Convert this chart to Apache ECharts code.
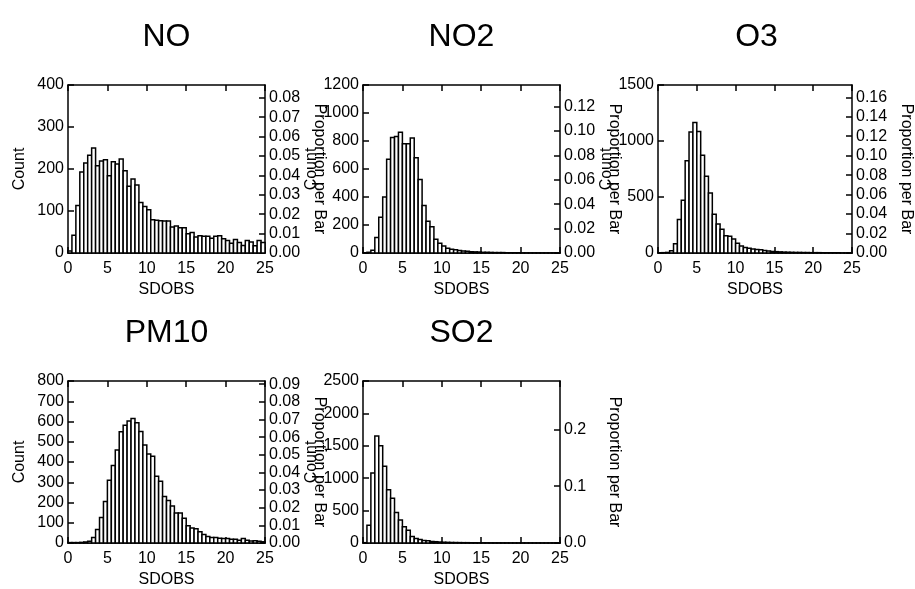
<!DOCTYPE html>
<html>
<head>
<meta charset="utf-8">
<title>SDOBS histograms</title>
<script src="https://cdn.jsdelivr.net/npm/echarts@6/dist/echarts.min.js"></script>
<style>
    html, body { margin: 0; padding: 0; background: #fff; }
    #chart { width: 915px; height: 589px; }
</style>
</head>
<body>
<div id="chart"></div>
<script>
// 数据：每个污染物 50 个柱（0-25，柱宽 0.5）
const pollutants = ['NO', 'NO2', 'O3', 'PM10', 'SO2'];
const binWidth = 0.5;

const noCounts = [5, 42, 113, 193, 214, 233, 250, 208, 219, 222,
    184, 217, 212, 224, 196, 159, 176, 162, 120, 111,
    103, 79, 78, 77, 76, 76, 62, 64, 60, 60,
    46, 49, 38, 41, 40, 40, 35, 40, 41, 34,
    30, 23, 32, 25, 18, 30, 26, 17, 30, 25];
const no2Counts = [2, 5, 20, 110, 255, 400, 670, 825, 832, 862,
    780, 780, 822, 680, 525, 340, 226, 188, 98, 70,
    50, 34, 26, 24, 17, 14, 12, 9, 8, 7,
    5, 5, 4, 3, 3, 3, 2, 2, 2, 2,
    1, 1, 1, 1, 1, 1, 1, 1, 1, 1];
const o3Counts = [2, 3, 5, 20, 82, 300, 470, 823, 1080, 1165,
    1085, 872, 685, 535, 345, 260, 211, 155, 150, 125,
    86, 62, 48, 42, 36, 32, 28, 22, 18, 14,
    12, 10, 8, 7, 6, 5, 5, 4, 4, 3,
    3, 3, 2, 2, 2, 2, 2, 1, 1, 1];
const pm10Counts = [2, 2, 2, 3, 5, 9, 27, 67, 126, 205,
    310, 383, 459, 550, 582, 603, 615, 594, 551, 484,
    440, 428, 330, 305, 230, 210, 183, 148, 148, 122,
    85, 74, 70, 56, 42, 32, 27, 27, 24, 22,
    22, 18, 19, 14, 22, 14, 10, 11, 9, 6];
const so2Counts = [5, 272, 1080, 1652, 1500, 1185, 823, 690, 470, 355,
    250, 197, 100, 68, 55, 40, 35, 25, 20, 15,
    12, 10, 8, 7, 6, 5, 5, 4, 4, 3,
    3, 3, 2, 2, 2, 2, 2, 1, 1, 1,
    1, 1, 1, 1, 1, 1, 1, 1, 1, 1];
const allCounts = [noCounts, no2Counts, o3Counts, pm10Counts, so2Counts];

// 坐标轴刻度
const xMin = 0, xMax = 25, xStep = 5;
const countMax = [400, 1200, 1500, 800, 2500];
const countStep = [100, 200, 500, 100, 500];
// 比例轴：总数（从右侧刻度读出）
const totals = [4620, 8710, 8690, 8714, 8770];
const propStep = [0.01, 0.02, 0.02, 0.01, 0.1];
const propDigits = [2, 2, 2, 2, 1];

// 布局
const boxes = [
    { left: 68, top: 85, height: 168 },
    { left: 363, top: 85, height: 168 },
    { left: 658, top: 85, height: 168 },
    { left: 68, top: 381, height: 167 },
    { left: 363, top: 381, height: 167 }
];
const boxWidth = 197;
const fontFamily = 'Liberation Sans, Arial, sans-serif';
const black = '#000';

function renderBar(params, api) {
    const p0 = api.coord([api.value(0), api.value(2)]);
    const p1 = api.coord([api.value(1), 0]);
    return {
        type: 'rect',
        shape: { x: p0[0], y: p0[1], width: p1[0] - p0[0], height: p1[1] - p0[1] },
        style: { fill: '#fff', stroke: black, lineWidth: 1.5 }
    };
}

function initChart() {
    const chart = echarts.init(document.getElementById('chart'));
    const grid = [], xAxis = [], yAxis = [], series = [], graphic = [];
    const axisLine = { show: true, onZero: false, lineStyle: { color: black, width: 1.5 } };
    const axisTick = { inside: true, length: 6, lineStyle: { color: black, width: 1.5 } };
    const labelStyle = { color: black, fontSize: 16, fontFamily: fontFamily };
    const nameStyle = { color: black, fontSize: 16, fontFamily: fontFamily };

    pollutants.forEach((name, i) => {
        const b = boxes[i];
        grid.push({ left: b.left, top: b.top, width: boxWidth, height: b.height });

        // 下方 x 轴
        xAxis.push({
            type: 'value', gridIndex: i, position: 'bottom',
            min: xMin, max: xMax, interval: xStep,
            axisLine: axisLine,
            axisTick: axisTick,
            axisLabel: Object.assign({ margin: 8, formatter: v => String(v) }, labelStyle),
            splitLine: { show: false },
            name: 'SDOBS', nameLocation: 'middle', nameGap: 29, nameTextStyle: nameStyle
        });
        // 上方 x 轴（只画刻度）
        xAxis.push({
            type: 'value', gridIndex: i, position: 'top',
            min: xMin, max: xMax, interval: xStep,
            axisLine: axisLine,
            axisTick: axisTick,
            axisLabel: { show: false },
            splitLine: { show: false }
        });
        // 左侧计数轴
        yAxis.push({
            type: 'value', gridIndex: i, position: 'left',
            min: 0, max: countMax[i], interval: countStep[i],
            axisLine: axisLine,
            axisTick: axisTick,
            axisLabel: Object.assign({ margin: 4, formatter: v => String(v) }, labelStyle),
            splitLine: { show: false },
            name: 'Count', nameLocation: 'middle', nameGap: 40, nameTextStyle: nameStyle
        });
        // 右侧比例轴
        yAxis.push({
            type: 'value', gridIndex: i, position: 'right',
            min: 0, max: countMax[i] / totals[i], interval: propStep[i],
            axisLine: axisLine,
            axisTick: axisTick,
            axisLabel: Object.assign({
                margin: 4, showMaxLabel: false,
                formatter: v => v.toFixed(propDigits[i])
            }, labelStyle),
            splitLine: { show: false },
            name: 'Proportion per Bar', nameLocation: 'middle', nameRotate: -90,
            nameGap: 46, nameTextStyle: nameStyle
        });

        series.push({
            type: 'custom',
            xAxisIndex: i * 2,
            yAxisIndex: i * 2,
            renderItem: renderBar,
            encode: { x: [0, 1], y: 2 },
            data: allCounts[i].map((c, k) => [k * binWidth, (k + 1) * binWidth, c])
        });

        graphic.push({
            type: 'text',
            x: b.left + boxWidth / 2,
            y: b.top - 48,
            style: {
                text: name, fill: black, fontSize: 32, fontFamily: fontFamily,
                textAlign: 'center', textVerticalAlign: 'middle'
            }
        });
    });

    chart.setOption({
        animation: false,
        backgroundColor: '#fff',
        grid: grid,
        xAxis: xAxis,
        yAxis: yAxis,
        series: series,
        graphic: graphic
    });
    window.addEventListener('resize', () => chart.resize());
}

document.addEventListener('DOMContentLoaded', initChart);
</script>
</body>
</html>
